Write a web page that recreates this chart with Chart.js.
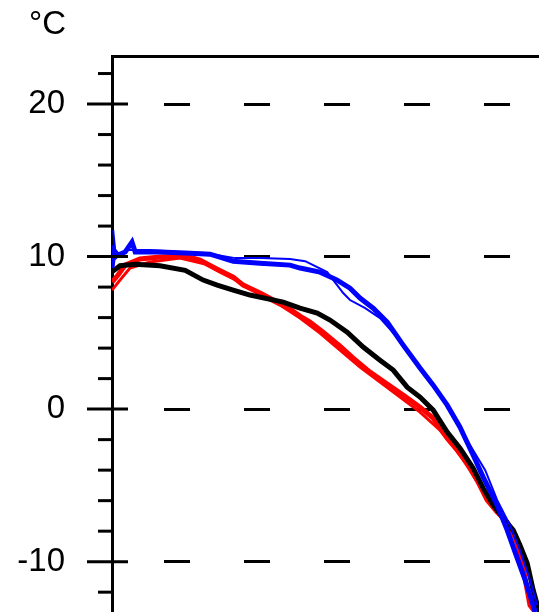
<!DOCTYPE html>
<html>
<head>
<meta charset="utf-8">
<script src="https://cdn.jsdelivr.net/npm/chart.js@4"></script>
<style>
  html, body { margin:0; padding:0; background:#fff; overflow:hidden; width:539px; height:612px; }
  #wrap { position:absolute; left:0; top:0; width:600px; height:612px; }
</style>
</head>
<body>
<div id="wrap"><canvas id="grafica"></canvas></div>
<script>
// Ejes
const unidad = "°C";
const yMayores = [20, 10, 0, -10];
const yMenores = [22, 18, 16, 14, 12, 8, 6, 4, 2, -2, -4, -6, -8, -12];
const yMin = -13.3, yMax = 23.15;
const xMin = 0, xMax = 122;

// Curvas
const xAzul = [0, 0.5, 1.5, 3.3, 5, 5.8, 12, 18.3, 24.5, 30.3, 37, 44.5, 47, 52, 56.3, 59.5, 62, 65.3, 68.8, 72.8, 77, 80.3, 83.8, 87, 90.3, 92.8, 96.3, 98.8, 101.3, 103.3, 104.5, 105.8];
const yAzul = [9.25, 10.4, 10.1, 10.3, 10.95, 10.3, 10.3, 10.23, 10.16, 9.7, 9.57, 9.44, 9.25, 8.98, 8.46, 7.93, 7.28, 6.62, 5.7, 4.2, 2.69, 1.57, 0.26, -1.18, -3.02, -4.46, -6.3, -7.93, -9.77, -11.21, -12.2, -13.3];

const xAzul2 = [0.3, 1, 3.3, 9.5, 17, 23.3, 30.8, 37, 44.5, 48.3, 53.8, 57.8, 59.5, 63.3, 67, 70.8, 74.5, 78.3, 82, 85.8, 89.5, 93.3, 96.3, 99.5, 102, 104.5, 106.3];
const yAzul2 = [11.74, 9.9, 10.43, 10.43, 10.3, 10.23, 9.9, 9.9, 9.84, 9.7, 8.98, 7.61, 7.15, 6.62, 5.97, 4.85, 3.54, 2.23, 0.92, -0.59, -2.36, -4.0, -5.97, -7.61, -9.25, -11.21, -12.85];

const xNegro = [0, 2, 5.8, 12, 18.3, 22.8, 26.3, 30.3, 34.5, 42.8, 47, 51.3, 54.5, 58.8, 62.8, 67, 70.3, 73.8, 77, 80.3, 83.8, 87, 90.3, 92.8, 95.3, 97.8, 100.3, 102, 103.8, 105.3, 106.8];
const yNegro = [9.0, 9.4, 9.5, 9.4, 9.1, 8.46, 8.13, 7.8, 7.48, 7.02, 6.62, 6.3, 5.84, 5.05, 4.07, 3.21, 2.56, 1.44, 0.79, -0.07, -1.51, -2.56, -3.87, -5.18, -6.3, -7.15, -7.93, -8.92, -10.1, -11.87, -13.3];

const xRojo = [0, 1.5, 3.3, 7, 12, 18.3, 22, 26.3, 30.3, 32.8, 37, 40.3, 44.5, 47, 49.5, 52.8, 57, 60.3, 64.5, 68.8, 72.8, 77, 80.3, 83.8, 86.3, 88.8, 91.3, 93.8, 96.3, 98.8, 101.3, 102.8, 104.5, 105.8];
const yRojo = [8.33, 8.79, 9.44, 9.84, 9.97, 10.03, 9.77, 9.18, 8.66, 8.13, 7.61, 7.15, 6.56, 6.1, 5.7, 5.05, 4.13, 3.34, 2.43, 1.64, 0.92, 0.13, -0.59, -1.9, -2.69, -3.54, -4.66, -5.97, -6.75, -7.41, -8.59, -10.43, -12.85, -13.3];

const xRojo2 = [0, 2, 4.5, 9.5, 17, 23.3, 27, 32, 37, 42, 47, 52, 57, 62, 67, 72, 77, 82, 85.8, 89.5, 93.3, 97, 100, 102.5, 104.5];
const yRojo2 = [7.8, 8.46, 9.25, 9.64, 9.9, 9.51, 8.98, 8.33, 7.48, 6.82, 5.97, 4.98, 3.87, 2.75, 1.77, 0.79, -0.2, -1.38, -2.56, -4.0, -5.64, -6.95, -8.07, -9.9, -12.52];

function puntos(xs, ys) {
  return xs.map((x, i) => ({x: x, y: ys[i]}));
}

// Marcas del eje Y (mayores cruzan el eje, menores solo por fuera)
const marcasEje = {
  id: "marcasEje",
  afterDraw(chart) {
    const c = chart.ctx;
    const y = chart.scales.y;
    const x0 = chart.chartArea.left;
    c.save();
    c.strokeStyle = "#000";
    c.lineWidth = 3;
    yMenores.forEach(v => {
      const py = y.getPixelForValue(v);
      c.beginPath(); c.moveTo(x0 - 14, py); c.lineTo(x0, py); c.stroke();
    });
    yMayores.forEach(v => {
      const py = y.getPixelForValue(v);
      c.beginPath(); c.moveTo(x0 - 25, py); c.lineTo(x0 + 16, py); c.stroke();
    });
    c.fillStyle = "#000";
    c.font = "33px 'Liberation Sans'";
    c.textAlign = "right";
    c.textBaseline = "middle";
    c.fillText(unidad, 66, 25);
    c.restore();
  }
};

const ctx = document.getElementById("grafica").getContext("2d");

new Chart(ctx, {
  type: "line",
  data: {
    datasets: [
      {data: puntos(xAzul, yAzul), borderColor: "#0000ff", borderWidth: 5},
      {data: puntos(xAzul2, yAzul2), borderColor: "#0000ff", borderWidth: 2},
      {data: puntos(xNegro, yNegro), borderColor: "#000000", borderWidth: 5},
      {data: puntos(xRojo, yRojo), borderColor: "#ff0000", borderWidth: 5},
      {data: puntos(xRojo2, yRojo2), borderColor: "#ff0000", borderWidth: 3}
    ]
  },
  options: {
    responsive: true,
    maintainAspectRatio: false,
    animation: false,
    layout: {padding: {top: 56, left: 0, right: 0, bottom: 0}},
    elements: {
      point: {radius: 0},
      line: {tension: 0, fill: false, borderJoinStyle: "miter"}
    },
    plugins: {legend: {display: false}, tooltip: {enabled: false}},
    scales: {
      x: {
        type: "linear",
        position: "top",
        min: xMin, max: xMax,
        ticks: {display: false},
        grid: {display: false, drawTicks: false},
        border: {display: true, color: "#000", width: 3},
        afterFit: s => { s.height = 0; s.paddingLeft = 0; s.paddingRight = 0; }
      },
      y: {
        type: "linear",
        min: yMin, max: yMax,
        afterBuildTicks: s => {
          s.ticks = yMayores.concat(yMenores).sort((a, b) => a - b).map(v => ({value: v}));
        },
        afterFit: s => { s.width = 112; s.paddingTop = 0; s.paddingBottom = 0; },
        ticks: {
          autoSkip: false,
          padding: 47,
          color: "#000",
          font: {family: "'Liberation Sans'", size: 33, lineHeight: 1},
          callback: v => yMayores.includes(v) ? String(v) : ""
        },
        grid: {
          drawTicks: false,
          lineWidth: 3,
          color: c => yMayores.includes(c.tick.value) ? "#000" : "rgba(0,0,0,0)"
        },
        border: {display: true, color: "#000", width: 3, dash: [26, 54], dashOffset: 30}
      }
    }
  },
  plugins: [marcasEje]
});
</script>
</body>
</html>
